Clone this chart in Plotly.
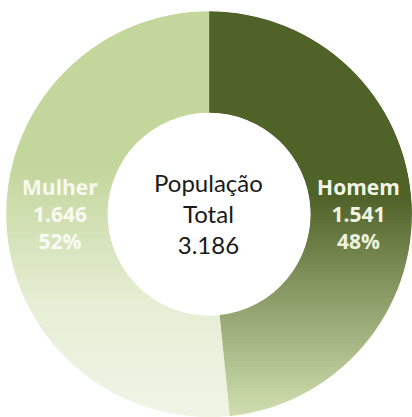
import math
import plotly.graph_objects as go

labels = ["Homem", "Mulher"]
values = [1541, 1646]
colors = ["#4f6228", "#c3d69b"]
label_colors = ["#f2f5e6", "#f7f9f0"]
center_title = "População<br>Total"
total_label = "3.186"

W, H = 412, 417
DOM_X = [0.015, 1.0]
DOM_Y = [0.0, 0.973]
HOLE = 0.5
LABEL_SIZE = 21

fig = go.Figure()
fig.add_trace(go.Pie(
    labels=labels,
    values=values,
    hole=HOLE,
    sort=False,
    direction="clockwise",
    rotation=0,
    marker=dict(colors=colors, line=dict(width=0)),
    texttemplate="%{label}<br>%{value:,}<br>%{percent:.0%}",
    textposition="inside",
    insidetextorientation="horizontal",
    textfont=dict(family="Open Sans", size=LABEL_SIZE, color=label_colors, weight="bold"),
    domain=dict(x=DOM_X, y=DOM_Y),
    showlegend=False,
    hoverinfo="label+value+percent",
))

# ---- gradient styling: vertical fades laid over each slice, then white masks ----
cx = (DOM_X[0] + DOM_X[1]) / 2 * W
cy = (1 - (DOM_Y[0] + DOM_Y[1]) / 2) * H
r_out = min((DOM_X[1] - DOM_X[0]) * W, (DOM_Y[1] - DOM_Y[0]) * H) / 2
r_in = r_out * HOLE
theta = 2 * math.pi * values[0] / sum(values)   # clockwise end angle of first slice
slant = math.tan(math.pi - theta)


def interp(stops, y):
    if y <= stops[0][0]:
        return stops[0][1]
    for (y0, a0), (y1, a1) in zip(stops, stops[1:]):
        if y <= y1:
            return a0 + (a1 - a0) * (y - y0) / (y1 - y0)
    return stops[-1][1]


left_fade = dict(color="white", stops=[(165, 0.0), (300, 0.58), (400, 0.72), (417, 0.74)])
right_fade = dict(color="rgb(219,232,186)", stops=[(195, 0.0), (300, 0.45), (395, 0.85), (417, 0.92)])

shapes = []
step = 3
py = 160
while py < H:
    py2 = min(py + step, H)
    mid = (py + py2) / 2
    div_x = cx + (slant * (mid - cy) if mid > cy else 0.0)
    y0p, y1p = 1 - py2 / H, 1 - py / H
    aL = interp(left_fade["stops"], mid)
    aR = interp(right_fade["stops"], mid)
    if aL > 0:
        shapes.append(dict(type="rect", xref="paper", yref="paper",
                           x0=0, x1=div_x / W, y0=y0p, y1=y1p,
                           fillcolor=left_fade["color"], opacity=aL,
                           line=dict(width=0), layer="above"))
    if aR > 0:
        shapes.append(dict(type="rect", xref="paper", yref="paper",
                           x0=div_x / W, x1=1, y0=y0p, y1=y1p,
                           fillcolor=right_fade["color"], opacity=aR,
                           line=dict(width=0), layer="above"))
    py = py2

# white masks restoring the background outside the ring and inside the hole
k = 0.5523
pcx, pcy = cx / W, 1 - cy / H
ro = r_out + 0.3
rx, ry = ro / W, ro / H
mask_path = (
    "M 0,0 L 1,0 L 1,1 L 0,1 Z "
    f"M {pcx},{pcy + ry} "
    f"C {pcx + k * rx},{pcy + ry} {pcx + rx},{pcy + k * ry} {pcx + rx},{pcy} "
    f"C {pcx + rx},{pcy - k * ry} {pcx + k * rx},{pcy - ry} {pcx},{pcy - ry} "
    f"C {pcx - k * rx},{pcy - ry} {pcx - rx},{pcy - k * ry} {pcx - rx},{pcy} "
    f"C {pcx - rx},{pcy + k * ry} {pcx - k * rx},{pcy + ry} {pcx},{pcy + ry} Z"
)
shapes.append(dict(type="path", xref="paper", yref="paper", path=mask_path,
                   fillcolor="white", line=dict(width=0), layer="above"))
ri = r_in - 0.3
shapes.append(dict(type="circle", xref="paper", yref="paper",
                   x0=(cx - ri) / W, x1=(cx + ri) / W,
                   y0=1 - (cy + ri) / H, y1=1 - (cy - ri) / H,
                   fillcolor="white", line=dict(width=0), layer="above"))

fig.update_layout(
    width=W, height=H,
    margin=dict(l=0, r=0, t=0, b=0),
    paper_bgcolor="white",
    plot_bgcolor="white",
    separators=",.",
    shapes=shapes,
    uniformtext=dict(minsize=LABEL_SIZE, mode="show"),
    annotations=[dict(
        text=center_title + "<br>" + total_label,
        x=0.507, y=0.489, xref="paper", yref="paper",
        xanchor="center", yanchor="middle",
        showarrow=False,
        font=dict(family="Lato", size=24, color="#1a1a1a"),
        align="center",
    )],
)

fig.write_html("out.html", config={"displayModeBar": False},
               post_script="document.body.style.margin='0px';")
